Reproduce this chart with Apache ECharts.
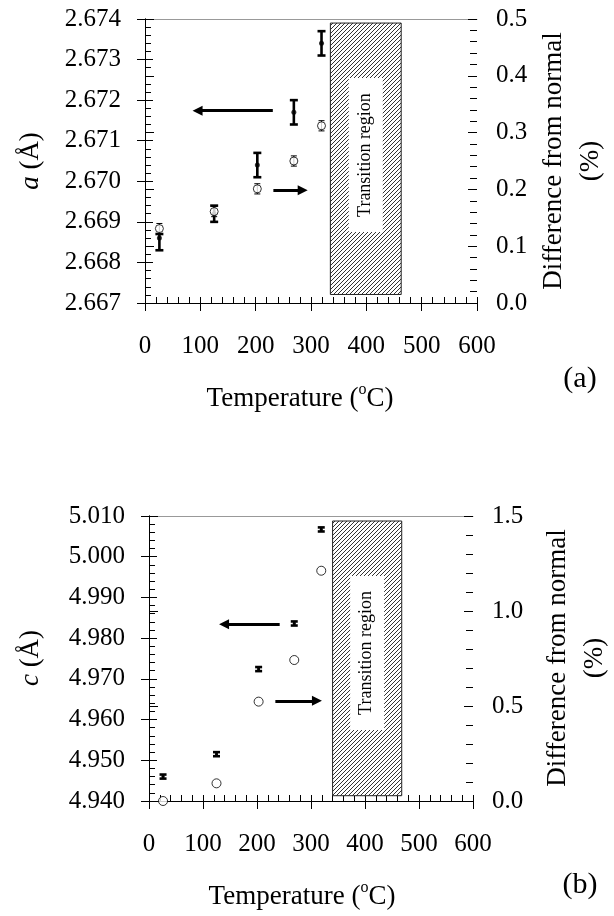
<!DOCTYPE html>
<html>
<head>
<meta charset="utf-8">
<script src="https://cdn.jsdelivr.net/npm/echarts@6/dist/echarts.min.js"></script>
<style>
  html, body { margin: 0; padding: 0; background: #fff; }
  #chart { width: 614px; height: 916px; }
</style>
</head>
<body>
<div id="chart"></div>
<script>
// Annealing temperatures (°C)
const temps = [26, 125, 203, 269, 319];

// (a) lattice parameter a (Å) with error bar limits
const latticeA = [2.6686, 2.6692, 2.6704, 2.6717, 2.6734];
const latticeALow = [2.6683, 2.6690, 2.6701, 2.6714, 2.6731];
const latticeAHigh = [2.6687, 2.6694, 2.6707, 2.6720, 2.6737];
// (a) difference from normal (%)
const diffA = [0.131, 0.161, 0.201, 0.250, 0.312];
const diffAErr = [0.009, 0.009, 0.009, 0.009, 0.009];

// (b) lattice parameter c (Å) with error
const latticeC = [4.9460, 4.9515, 4.9724, 4.9836, 5.0067];
const latticeCErr = [0.0005, 0.0005, 0.0005, 0.0005, 0.0005];
// (b) difference from normal (%)
const diffC = [0.00, 0.093, 0.523, 0.742, 1.212];

// Transition region extents: [T start, T end, value low, value high]
const transitionA = [335, 463, 2.66721, 2.67390];
const transitionC = [340, 468, 4.9413, 5.00877];

// Pointer arrows: [T from, T to, value]
const arrowsA = [[231, 95, 2.67174], [232, 285, 2.66978]];
const arrowsC = [[242, 139, 4.98343], [234, 311, 4.96462]];

// Axis tick settings
const tempTicks = { min: 0, max: 600, interval: 100 };
const aTicks = { min: 2.667, max: 2.674, interval: 0.001 };
const cTicks = { min: 4.940, max: 5.010, interval: 0.010 };
const diffATicks = { min: 0, max: 0.5, interval: 0.1 };
const diffCTicks = { min: 0, max: 1.5, interval: 0.5 };

const FONT = '"Liberation Serif", "Times New Roman", serif';
const BLACK = '#000';
const TICK_FS = 25;
const TITLE_FS = 27;

// diagonal hatch tile
function makeHatch() {
  const s = 4;
  const c = document.createElement('canvas');
  c.width = s; c.height = s;
  const g = c.getContext('2d');
  g.fillStyle = '#fff';
  g.fillRect(0, 0, s, s);
  g.strokeStyle = '#333';
  g.lineWidth = 1;
  g.beginPath();
  g.moveTo(-1, s + 1); g.lineTo(s + 1, -1);
  g.moveTo(-1, 1); g.lineTo(1, -1);
  g.moveTo(s - 1, s + 1); g.lineTo(s + 1, s - 1);
  g.stroke();
  return { image: c, repeat: 'repeat' };
}
const hatch = makeHatch();

const chart = echarts.init(document.getElementById('chart'), null, { renderer: 'canvas' });

function xAxes(grid) {
  return [
    { gridIndex: grid, type: 'value', position: 'bottom', ...tempTicks,
      axisLine: { lineStyle: { color: BLACK, width: 1 } },
      axisTick: { show: true, inside: false, length: 8, lineStyle: { color: BLACK } },
      axisLabel: { margin: 31, fontSize: TICK_FS, fontFamily: FONT, color: BLACK },
      splitLine: { show: false } },
    { gridIndex: grid, type: 'value', position: 'bottom', ...tempTicks,
      axisLine: { show: false },
      axisTick: { show: true, inside: true, length: 6, lineStyle: { color: BLACK } },
      minorTick: { show: true, splitNumber: 5, length: 6, lineStyle: { color: BLACK } },
      axisLabel: { show: false }, splitLine: { show: false } },
    { gridIndex: grid, type: 'value', position: 'top', ...tempTicks,
      axisLine: { lineStyle: { color: '#999', width: 1 } },
      axisTick: { show: false }, axisLabel: { show: false }, splitLine: { show: false } }
  ];
}

function yAxes(grid, left, right, leftDigits) {
  return [
    { gridIndex: grid, type: 'value', position: 'left', ...left,
      axisLine: { show: true, lineStyle: { color: BLACK } },
      axisTick: { show: true, inside: false, length: 8, lineStyle: { color: BLACK } },
      axisLabel: { margin: 24, fontSize: TICK_FS, fontFamily: FONT, color: BLACK,
        formatter: v => v.toFixed(leftDigits) },
      splitLine: { show: false } },
    { gridIndex: grid, type: 'value', position: 'left', ...left,
      axisLine: { show: false },
      axisTick: { show: true, inside: true, length: 8, lineStyle: { color: BLACK } },
      minorTick: { show: true, splitNumber: 5, length: 6, lineStyle: { color: BLACK } },
      axisLabel: { show: false }, splitLine: { show: false } },
    { gridIndex: grid, type: 'value', position: 'right', ...right,
      axisLine: { show: true, lineStyle: { color: BLACK } },
      axisTick: { show: true, inside: false, length: 9, lineStyle: { color: BLACK } },
      axisLabel: { margin: 19, fontSize: TICK_FS, fontFamily: FONT, color: BLACK,
        formatter: v => v.toFixed(1) },
      splitLine: { show: false } },
    { gridIndex: grid, type: 'value', position: 'right', ...right,
      axisLine: { show: false },
      axisTick: { show: true, inside: true, length: 9, lineStyle: { color: BLACK } },
      minorTick: { show: true, splitNumber: 5, length: 7, lineStyle: { color: BLACK } },
      axisLabel: { show: false }, splitLine: { show: false } }
  ];
}

// hatched transition band with a white label panel
function transitionSeries(xi, yi, ext) {
  return {
    type: 'custom', xAxisIndex: xi, yAxisIndex: yi, z: 1, silent: true,
    data: [ext],
    renderItem(params, api) {
      const p0 = api.coord([api.value(0), api.value(3)]);
      const p1 = api.coord([api.value(1), api.value(2)]);
      const w = p1[0] - p0[0], h = p1[1] - p0[1];
      const cx = p0[0] + w / 2;
      const boxTop = p0[1] + 55, boxH = 154;
      return {
        type: 'group',
        children: [
          { type: 'rect', shape: { x: p0[0], y: p0[1], width: w, height: h },
            style: { fill: hatch, stroke: '#222', lineWidth: 1 } },
          { type: 'rect', shape: { x: cx - 17, y: boxTop, width: 34, height: boxH },
            style: { fill: '#fff', stroke: null } },
          { type: 'text', x: cx - 1, y: boxTop + boxH / 2, rotation: Math.PI / 2,
            style: { text: 'Transition region', fontSize: 18, fontFamily: FONT,
              fill: BLACK, align: 'center', verticalAlign: 'middle' } }
        ]
      };
    }
  };
}

// vertical error bars with caps
function errorSeries(xi, yi, rows, width, capHalf, z) {
  return {
    type: 'custom', xAxisIndex: xi, yAxisIndex: yi, z: z, silent: true,
    data: rows,
    renderItem(params, api) {
      const top = api.coord([api.value(0), api.value(2)]);
      const bot = api.coord([api.value(0), api.value(1)]);
      const st = { stroke: BLACK, lineWidth: width };
      return {
        type: 'group',
        children: [
          { type: 'line', shape: { x1: top[0], y1: top[1], x2: bot[0], y2: bot[1] }, style: st },
          { type: 'line', shape: { x1: top[0] - capHalf, y1: top[1], x2: top[0] + capHalf, y2: top[1] }, style: st },
          { type: 'line', shape: { x1: bot[0] - capHalf, y1: bot[1], x2: bot[0] + capHalf, y2: bot[1] }, style: st }
        ]
      };
    }
  };
}

function arrowMarks(list) {
  return {
    silent: true, symbol: ['none', 'triangle'], symbolSize: [10, 10],
    lineStyle: { color: BLACK, width: 3, type: 'solid' },
    label: { show: false },
    data: list.map(a => [{ coord: [a[0], a[2]] }, { coord: [a[1], a[2]] }])
  };
}

const rowsA = temps.map((t, i) => [t, latticeALow[i], latticeAHigh[i]]);
const rowsDA = temps.map((t, i) => [t, diffA[i] - diffAErr[i], diffA[i] + diffAErr[i]]);
const rowsC = temps.map((t, i) => [t, latticeC[i] - latticeCErr[i], latticeC[i] + latticeCErr[i]]);

function axisTitle(text, x, y) {
  return { type: 'text', x: x, y: y,
    style: { text: text, fill: BLACK, align: 'center', verticalAlign: 'middle',
      rich: { n: { fontSize: TITLE_FS, fontFamily: FONT, lineHeight: 30, verticalAlign: 'bottom' },
              s: { fontSize: 16, fontFamily: FONT, lineHeight: 16, verticalAlign: 'top' } } } };
}

function sideTitle(letter, x, y) {
  return { type: 'text', x: x, y: y, rotation: Math.PI / 2,
    style: { text: '{i|' + letter + '} (Å)', fontSize: TITLE_FS, fontFamily: FONT, fill: BLACK,
      align: 'center', verticalAlign: 'middle',
      rich: { i: { fontStyle: 'italic', fontSize: TITLE_FS, fontFamily: FONT } } } };
}

function rightTitle(x, y) {
  return { type: 'text', x: x, y: y, rotation: Math.PI / 2,
    style: { text: 'Difference from normal\n(%)', fontSize: TITLE_FS, fontFamily: FONT, fill: BLACK,
      lineHeight: 37, align: 'center', verticalAlign: 'middle' } };
}

const option = {
  backgroundColor: '#fff',
  animation: false,
  grid: [
    { left: 145, top: 19, width: 332, height: 284, containLabel: false },
    { left: 149, top: 516, width: 324, height: 285, containLabel: false }
  ],
  xAxis: [...xAxes(0), ...xAxes(1)],
  yAxis: [...yAxes(0, aTicks, diffATicks, 3), ...yAxes(1, cTicks, diffCTicks, 3)],
  series: [
    transitionSeries(0, 0, transitionA),
    errorSeries(0, 0, rowsA, 2.6, 4, 3),
    { type: 'scatter', xAxisIndex: 0, yAxisIndex: 0, z: 4, symbol: 'circle', symbolSize: 5,
      itemStyle: { color: BLACK }, data: temps.map((t, i) => [t, latticeA[i]]),
      markLine: arrowMarks(arrowsA) },
    errorSeries(0, 2, rowsDA, 1, 3, 5),
    { type: 'scatter', xAxisIndex: 0, yAxisIndex: 2, z: 6, symbol: 'circle', symbolSize: 8,
      itemStyle: { color: '#fff', borderColor: BLACK, borderWidth: 1 },
      data: temps.map((t, i) => [t, diffA[i]]) },

    transitionSeries(3, 4, transitionC),
    errorSeries(3, 4, rowsC, 2.6, 3.5, 3),
    { type: 'scatter', xAxisIndex: 3, yAxisIndex: 4, z: 4, symbol: 'circle', symbolSize: 3,
      itemStyle: { color: BLACK }, data: temps.map((t, i) => [t, latticeC[i]]),
      markLine: arrowMarks(arrowsC) },
    { type: 'scatter', xAxisIndex: 3, yAxisIndex: 6, z: 6, symbol: 'circle', symbolSize: 9,
      itemStyle: { color: '#fff', borderColor: BLACK, borderWidth: 1 },
      data: temps.map((t, i) => [t, diffC[i]]) }
  ],
  graphic: [
    sideTitle('a', 31, 161),
    sideTitle('c', 31, 658),
    rightTitle(572, 161),
    rightTitle(576, 658),
    axisTitle('{n|Temperature (}{s|o}{n|C)}', 300, 397),
    axisTitle('{n|Temperature (}{s|o}{n|C)}', 302, 895),
    { type: 'text', x: 580, y: 379,
      style: { text: '(a)', fontSize: 30, fontFamily: FONT, fill: BLACK, align: 'center', verticalAlign: 'middle' } },
    { type: 'text', x: 580, y: 885,
      style: { text: '(b)', fontSize: 30, fontFamily: FONT, fill: BLACK, align: 'center', verticalAlign: 'middle' } }
  ]
};

chart.setOption(option);
</script>
</body>
</html>
